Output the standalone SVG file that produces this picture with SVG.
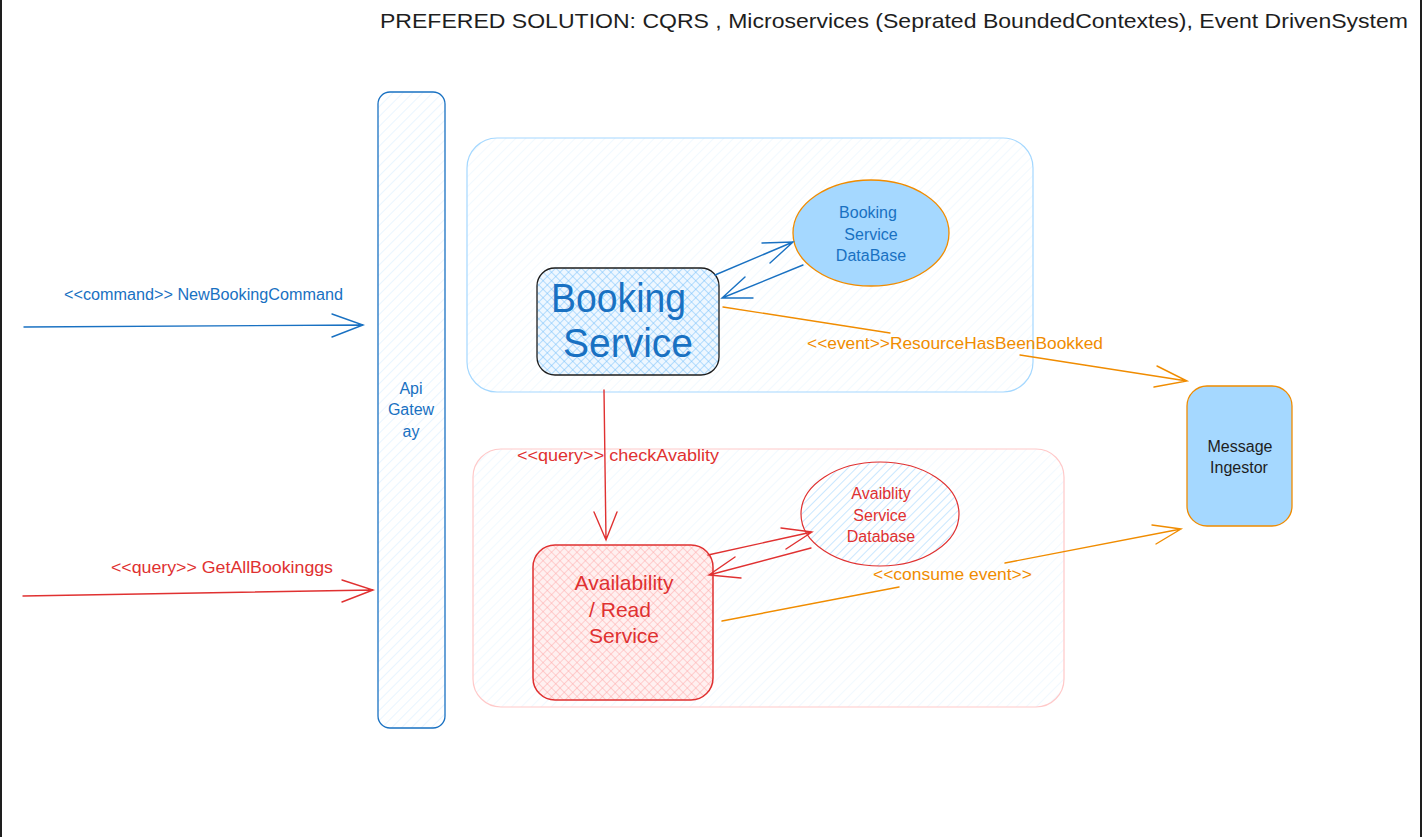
<svg xmlns="http://www.w3.org/2000/svg" width="1422" height="837" viewBox="0 0 1422 837">
<defs>
<pattern id="hatchLight" patternUnits="userSpaceOnUse" width="7" height="7" patternTransform="rotate(45)">
<rect width="7" height="7" fill="#ffffff"/>
<line x1="0" y1="0" x2="0" y2="7" stroke="#a5d8ff" stroke-width="1" opacity="0.3"/>
</pattern>
<pattern id="hatchGate" patternUnits="userSpaceOnUse" width="7" height="7" patternTransform="rotate(45)">
<rect width="7" height="7" fill="#ffffff"/>
<line x1="0" y1="0" x2="0" y2="7" stroke="#a5d8ff" stroke-width="1" opacity="0.5"/>
</pattern>
<pattern id="crossBlue" patternUnits="userSpaceOnUse" width="6" height="6" patternTransform="rotate(45)">
<rect width="6" height="6" fill="#eef7ff"/>
<line x1="0" y1="0" x2="0" y2="6" stroke="#74c0fc" stroke-width="1"/>
<line x1="0" y1="0" x2="6" y2="0" stroke="#74c0fc" stroke-width="1"/>
</pattern>
<pattern id="crossRed" patternUnits="userSpaceOnUse" width="6" height="6" patternTransform="rotate(45)">
<rect width="6" height="6" fill="#fff0f0"/>
<line x1="0" y1="0" x2="0" y2="6" stroke="#ffa8a8" stroke-width="1"/>
<line x1="0" y1="0" x2="6" y2="0" stroke="#ffa8a8" stroke-width="1"/>
</pattern>
<pattern id="hatchEll" patternUnits="userSpaceOnUse" width="6" height="6" patternTransform="rotate(45)">
<rect width="6" height="6" fill="#ffffff"/>
<line x1="0" y1="0" x2="0" y2="6" stroke="#a5d8ff" stroke-width="1.2"/>
</pattern>
</defs>
<style>
text{font-family:"Liberation Sans",Arial,sans-serif;}
.blue{fill:#1971c2;}
.red{fill:#e03131;}
.orange{fill:#f08c00;}
.dark{fill:#1e1e1e;}
.c{text-anchor:middle;}
.lb{stroke:#1971c2;stroke-width:1.4;fill:none;stroke-linecap:round;}
.lr{stroke:#e03131;stroke-width:1.4;fill:none;stroke-linecap:round;}
.lo{stroke:#f08c00;stroke-width:1.4;fill:none;stroke-linecap:round;}
</style>
<rect width="1422" height="837" fill="#ffffff"/>
<line x1="1" y1="0" x2="1" y2="837" stroke="#1e1e1e" stroke-width="2"/>
<line x1="1421" y1="0" x2="1421" y2="837" stroke="#1e1e1e" stroke-width="2"/>

<g id="title">
<text x="380" y="28" font-size="21" class="dark" textLength="1028" lengthAdjust="spacingAndGlyphs">PREFERED SOLUTION: CQRS , Microservices (Seprated BoundedContextes), Event DrivenSystem</text>
</g>

<g id="booking-context">
<rect x="467" y="138" width="566" height="254" rx="30" fill="url(#hatchLight)" stroke="#a5d8ff" stroke-width="1.2"/>
</g>
<g id="availability-context">
<rect x="473" y="449" width="591" height="258" rx="28" fill="url(#hatchLight)" stroke="#ffc9c9" stroke-width="1.2"/>
</g>

<g id="api-gateway">
<rect x="378" y="92" width="67" height="636" rx="12" fill="url(#hatchGate)" stroke="#1971c2" stroke-width="1.3"/>
<text x="411" y="394" font-size="16" class="blue c">Api</text>
<text x="411" y="415" font-size="16" class="blue c">Gatew</text>
<text x="411" y="437" font-size="16" class="blue c">ay</text>
</g>

<g id="booking-service">
<rect x="537" y="268" width="182" height="107" rx="18" fill="url(#crossBlue)" stroke="#1e1e1e" stroke-width="1.3"/>
<text x="551" y="312" font-size="40" class="blue" textLength="135" lengthAdjust="spacingAndGlyphs">Booking</text>
<text x="563" y="357" font-size="40" class="blue" textLength="130" lengthAdjust="spacingAndGlyphs">Service</text>
</g>

<g id="booking-db">
<ellipse cx="871" cy="233" rx="78" ry="53" fill="#a5d8ff" stroke="#f08c00" stroke-width="1.3"/>
<text x="868" y="218" font-size="16" class="blue c">Booking</text>
<text x="871" y="240" font-size="16" class="blue c">Service</text>
<text x="871" y="261" font-size="16" class="blue c">DataBase</text>
</g>

<g id="availability-service">
<rect x="533" y="545" width="180" height="155" rx="22" fill="url(#crossRed)" stroke="#e03131" stroke-width="1.5"/>
<text x="624" y="590" font-size="21" class="red c">Availability</text>
<text x="620" y="617" font-size="21" class="red c">/ Read</text>
<text x="624" y="643" font-size="21" class="red c">Service</text>
</g>

<g id="availability-db">
<ellipse cx="880" cy="514" rx="79" ry="52" fill="url(#hatchEll)" stroke="#e03131" stroke-width="1.2"/>
<text x="881" y="499" font-size="16" class="red c">Avaiblity</text>
<text x="880" y="521" font-size="16" class="red c">Service</text>
<text x="881" y="542" font-size="16" class="red c">Database</text>
</g>

<g id="message-ingestor">
<rect x="1187" y="386" width="105" height="140" rx="20" fill="#a5d8ff" stroke="#f08c00" stroke-width="1.3"/>
<text x="1240" y="452" font-size="16" class="dark c">Message</text>
<text x="1239" y="473" font-size="16" class="dark c">Ingestor</text>
</g>

<g id="connectors">
<path class="lb" d="M24 327 L363 325 M332 314 L363 325 L332 337"/>
<text x="64" y="300" font-size="16" class="blue" textLength="279" lengthAdjust="spacingAndGlyphs">&lt;&lt;command&gt;&gt; NewBookingCommand</text>
<path class="lr" d="M23 596 L373 590 M342 580 L373 590 L342 602"/>
<text x="111" y="573" font-size="16" class="red" textLength="222" lengthAdjust="spacingAndGlyphs">&lt;&lt;query&gt;&gt; GetAllBookinggs</text>
<path class="lb" d="M715 275 L793 242 M762 243 L793 242 L770 263"/>
<path class="lb" d="M803 265 L722 298 M745 277 L722 298 L753 298"/>
<path class="lo" d="M723 307 L890 333 M1020 355 L1187 381 M1157 366 L1187 381 L1154 387"/>
<text x="807" y="349" font-size="16" class="orange" textLength="296" lengthAdjust="spacingAndGlyphs">&lt;&lt;event&gt;&gt;ResourceHasBeenBookked</text>
<path class="lr" d="M604 390 L606 540 M594 512 L606 540 L617 512"/>
<text x="517" y="461" font-size="16" class="red" textLength="202" lengthAdjust="spacingAndGlyphs">&lt;&lt;query&gt;&gt; checkAvablity</text>
<path class="lr" d="M708 555 L812 532 M781 528 L812 532 L786 549"/>
<path class="lr" d="M811 548 L709 575 M735 557 L709 575 L741 578"/>
<path class="lo" d="M722 621 L899 587 M1005 563 L1181 529 M1152 525 L1181 529 L1156 544"/>
<text x="873" y="580" font-size="16" class="orange" textLength="159" lengthAdjust="spacingAndGlyphs">&lt;&lt;consume event&gt;&gt;</text>
</g>
</svg>
